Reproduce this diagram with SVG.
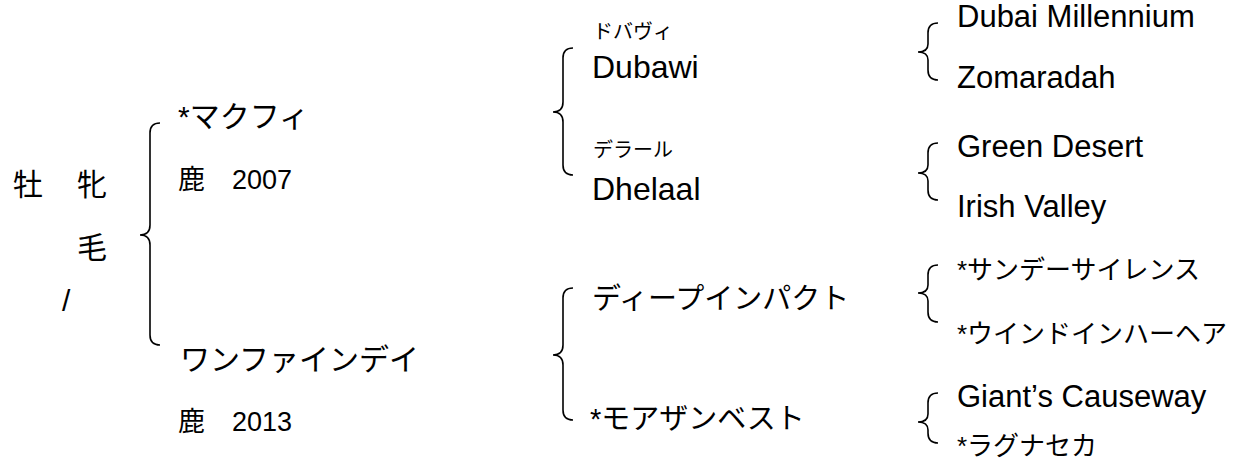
<svg xmlns="http://www.w3.org/2000/svg" width="1234" height="460" viewBox="0 0 1234 460">
<style>
text{font-family:"Liberation Sans","Noto Sans CJK JP",sans-serif;fill:#000}
.l{font-size:30px}
.m{font-size:29px}
.e{font-size:32px}
.r{font-size:26px}
.re{font-size:31px}
.k{font-size:20px}
.y{font-size:27px}
.br{fill:none;stroke:#000;stroke-width:1.6}
</style>
<rect width="1234" height="460" fill="#fff"/>
<g id="subject">
<text class="l" x="13" y="195">牡</text>
<text class="l" x="77" y="195">牝</text>
<text class="l" x="77" y="258">毛</text>
<text class="l" x="62" y="311">/</text>
</g>
<g id="sire">
<text class="l" x="178" y="127">*マクフィ</text>
<text class="y" x="178" y="189">鹿　2007</text>
</g>
<g id="dam">
<text class="l" x="180" y="370">ワンファインデイ</text>
<text class="y" x="178" y="431">鹿　2013</text>
</g>
<g id="dubawi">
<text class="k" x="593" y="39">ドバヴィ</text>
<text class="e" x="592" y="78">Dubawi</text>
</g>
<g id="dhelaal">
<text class="k" x="593" y="157">デラール</text>
<text class="e" x="592" y="200">Dhelaal</text>
</g>
<g id="deepimpact"><text class="m" x="592" y="309">ディープインパクト</text></g>
<g id="morethanbest"><text class="m" x="590" y="429">*モアザンベスト</text></g>
<g id="dubaimillennium"><text class="re" x="957" y="27">Dubai Millennium</text></g>
<g id="zomaradah"><text class="re" x="957" y="88">Zomaradah</text></g>
<g id="greendesert"><text class="re" x="957" y="157">Green Desert</text></g>
<g id="irishvalley"><text class="re" x="957" y="217">Irish Valley</text></g>
<g id="sundaysilence"><text class="r" x="957" y="279">*サンデーサイレンス</text></g>
<g id="windinhairhair"><text class="r" x="957" y="343">*ウインドインハーヘア</text></g>
<g id="giantscauseway"><text class="re" x="957" y="407">Giant’s Causeway</text></g>
<g id="laguna"><text class="r" x="957" y="455">*ラグナセカ</text></g>
<g id="connectors">
<path class="br" d="M160,123 Q150,123 150,133 L150,225 Q150,235 140,235 Q150,235 150,245 L150,335 Q150,345 160,345"/>
<path class="br" d="M573,48 Q563,48 563,58 L563,102 Q563,112 553,112 Q563,112 563,122 L563,165 Q563,175 573,175"/>
<path class="br" d="M573,288 Q563,288 563,298 L563,345 Q563,355 553,355 Q563,355 563,365 L563,410 Q563,420 573,420"/>
<path class="br" d="M938,23 Q928,23 928,33 L928,44 Q928,52 918,52 Q928,52 928,60 L928,70 Q928,80 938,80"/>
<path class="br" d="M938,143 Q928,143 928,153 L928,165 Q928,173 918,173 Q928,173 928,181 L928,190 Q928,200 938,200"/>
<path class="br" d="M938,265 Q928,265 928,275 L928,285 Q928,293 918,293 Q928,293 928,301 L928,312 Q928,322 938,322"/>
<path class="br" d="M938,393 Q928,393 928,403 L928,414 Q928,422 918,422 Q928,422 928,430 L928,433 Q928,443 938,443"/>
</g>
</svg>
